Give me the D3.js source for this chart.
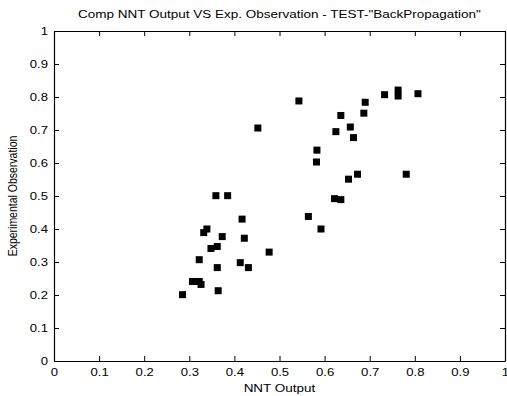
<!DOCTYPE html>
<html><head><meta charset="utf-8">
<script src="https://cdn.jsdelivr.net/npm/d3@7"></script>
<style>
body{margin:0;background:#fff;}
text{font-family:"Liberation Sans",Arial,sans-serif;fill:#000;}
</style></head>
<body><svg id="c" width="507" height="396"></svg>
<script>
const nntOutput = [0.285,0.307,0.322,0.326,0.322,0.332,0.339,0.348,0.362,0.362,0.364,0.359,0.385,0.373,0.417,0.422,0.413,0.431,0.477,0.452,0.543,0.564,0.592,0.583,0.582,0.622,0.636,0.653,0.673,0.781,0.625,0.664,0.657,0.636,0.687,0.690,0.733,0.763,0.763,0.807];
const expObservation = [0.201,0.241,0.241,0.232,0.307,0.389,0.400,0.341,0.347,0.283,0.213,0.501,0.501,0.377,0.430,0.372,0.298,0.283,0.330,0.706,0.788,0.438,0.400,0.639,0.603,0.492,0.489,0.551,0.566,0.566,0.695,0.677,0.709,0.744,0.751,0.784,0.807,0.821,0.803,0.810];
const tickValues = [0,0.1,0.2,0.3,0.4,0.5,0.6,0.7,0.8,0.9,1];
const titleText = 'Comp NNT Output VS Exp. Observation - TEST-"BackPropagation"';
const xLabel = "NNT Output";
const yLabel = "Experimental Observation";

const svg = d3.select("#c");
const L=54, R=505, T=31, B=361;
const x = d3.scaleLinear().domain([0,1]).range([L,R]);
const y = d3.scaleLinear().domain([0,1]).range([B,T]);
const fmt = d => d===0?"0":d===1?"1":String(d);
const FS = 10.5, SX = 1.25;

const tk = 5;
const gx = svg.append("g").attr("transform",`translate(0,${B})`)
  .call(d3.axisBottom(x).tickValues(tickValues).tickFormat(fmt).tickSizeInner(-tk).tickSizeOuter(0).tickPadding(7));
const gxt = svg.append("g").attr("transform",`translate(0,${T})`)
  .call(d3.axisTop(x).tickValues(tickValues).tickFormat("").tickSizeInner(-tk).tickSizeOuter(0));
const gy = svg.append("g").attr("transform",`translate(${L},0)`)
  .call(d3.axisLeft(y).tickValues(tickValues).tickFormat(fmt).tickSizeInner(-tk).tickSizeOuter(0).tickPadding(7));
const gyr = svg.append("g").attr("transform",`translate(${R},0)`)
  .call(d3.axisRight(y).tickValues(tickValues).tickFormat("").tickSizeInner(-tk).tickSizeOuter(0));
[gx,gxt,gy,gyr].forEach(g=>{
  g.selectAll("path").attr("stroke","#000").attr("stroke-width",1.2);
  g.selectAll("line").attr("stroke","#000").attr("stroke-width",1);
  g.selectAll("text").attr("font-size",FS).attr("font-family","Liberation Sans, Arial, sans-serif")
    .attr("transform",`scale(${SX},1)`);
});
gx.selectAll("text").attr("y",8);
gy.selectAll("text").attr("x",-6/SX);

const s = 7;
svg.append("g").selectAll("rect").data(nntOutput).join("rect")
  .attr("x",(d,i)=>x(d)-s/2).attr("y",(d,i)=>y(expObservation[i])-s/2)
  .attr("width",s).attr("height",s).attr("fill","#000");

svg.append("text").attr("transform",`translate(${(L+R)/2},18) scale(${SX},1)`).attr("text-anchor","middle").attr("font-size",FS+0.3).text(titleText);
svg.append("text").attr("transform",`translate(${(L+R)/2},392) scale(${SX},1)`).attr("text-anchor","middle").attr("font-size",FS+0.3).text(xLabel);
svg.append("text").attr("transform",`translate(17,${(T+B)/2}) scale(${SX},1) rotate(-90)`).attr("text-anchor","middle").attr("font-size",FS).text(yLabel);
</script></body></html>
